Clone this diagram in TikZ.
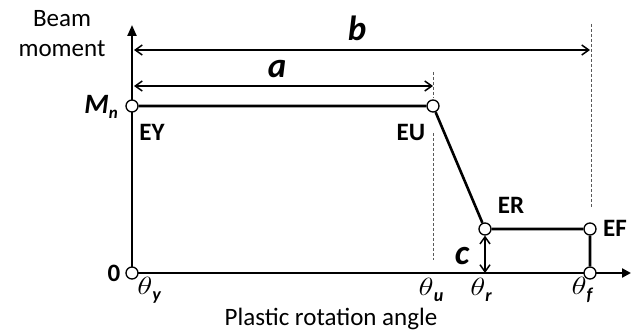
\documentclass[tikz,border=0pt]{standalone}
\usepackage{fontspec}
\setmainfont{Carlito}
\usetikzlibrary{arrows.meta}
\newcommand{\subl}[1]{\raisebox{-6pt}{\fontsize{18}{20}\selectfont\bfseries\itshape #1}}
\newcommand{\thet}{\scalebox{1.25}[1]{$\theta$}}
\begin{document}
\begin{tikzpicture}[x=1pt,y=-1pt,
  lbl/.style={font=\fontsize{25}{28}\selectfont, inner sep=0pt},
  blbl/.style={font=\fontsize{25}{28}\selectfont\bfseries, inner sep=0pt},
  bilbl/.style={font=\fontsize{35}{40}\selectfont\bfseries\itshape, inner sep=0pt},
  thlbl/.style={font=\fontsize{26}{30}\selectfont, inner sep=0pt},
  pt/.style={circle, draw, fill=white, line width=1.3pt, minimum size=12pt, inner sep=0pt},
  axis/.style={line width=2.2pt},
  curve/.style={line width=2.6pt},
  dim/.style={line width=1.5pt},
  guide/.style={line width=0.8pt, gray!70!black, dash pattern=on 3pt off 2pt}]
\useasboundingbox (0,0) rectangle (631,334);
% coordinates
\coordinate (O) at (132,273);
\coordinate (ytop) at (132,25);
\coordinate (xend) at (631,273);
% guides
\draw[guide] (433,72) -- (433,98);
\draw[guide] (433,133) -- (433,260);
\draw[guide] (591,24) -- (591,207);
% axes
\draw[axis,-{Triangle[length=11pt,width=9pt]}] (O) -- (ytop);
\draw[axis,-{Triangle[length=9pt,width=9pt]}] (O) -- (xend);
% points
\node[pt] (EY) at (132,106) {};
\node[pt] (EU) at (433,106) {};
\node[pt] (ER) at (485,229) {};
\node[pt] (EF) at (590,229) {};
\node[pt] (EFb) at (590,273) {};
\node[pt] (Op) at (132,273) {};
\draw[curve] (EY) -- (EU) -- (ER) -- (EF) -- (EFb);
% dimensions
\coordinate (bl) at (134,50); \coordinate (br) at (590,50);
\coordinate (al) at (134,86); \coordinate (ar) at (433,86);
\coordinate (cb) at (485,273);
\draw[dim,{Straight Barb[length=7pt,width=10pt]}-{Straight Barb[length=7pt,width=10pt]}] (bl) -- (br);
\draw[dim,{Straight Barb[length=7pt,width=10pt]}-{Straight Barb[length=7pt,width=10pt]}] (al) -- (ar);
\draw[dim,{Straight Barb[length=7pt,width=10pt]}-{Straight Barb[length=7pt,width=10pt]}] (ER.south) -- (cb);
% labels
\node[bilbl] (b) at (357,28) {b};
\node[bilbl] (a) at (277,69) {a};
\node[bilbl] (c) at (462,256) {c};
\node[lbl] (beam) at (62,19) {Beam};
\node[lbl] (moment) at (62,49) {moment};
\node[inner sep=0pt] (Mn) at (101,107) {\fontsize{28}{30}\selectfont\bfseries\itshape M\raisebox{-5pt}{\fontsize{17}{18}\selectfont n}};
\node[blbl] (ley) at (152,132) {EY};
\node[blbl] (leu) at (411,132) {EU};
\node[blbl] (ler) at (511,205) {ER};
\node[blbl] (lef) at (615,228) {EF};
\node[blbl] (zero) at (114,273) {0};
\node[thlbl] (ty) at (149,290) {\thet\subl{y}};
\node[thlbl] (tu) at (431,290) {\thet\subl{u}};
\node[thlbl] (tr) at (481,290) {\thet\subl{r}};
\node[thlbl] (tf) at (582,290) {\thet\subl{f}};
\node[lbl] (xlab) at (331,319) {Plastic rotation angle};
\end{tikzpicture}
\end{document}
